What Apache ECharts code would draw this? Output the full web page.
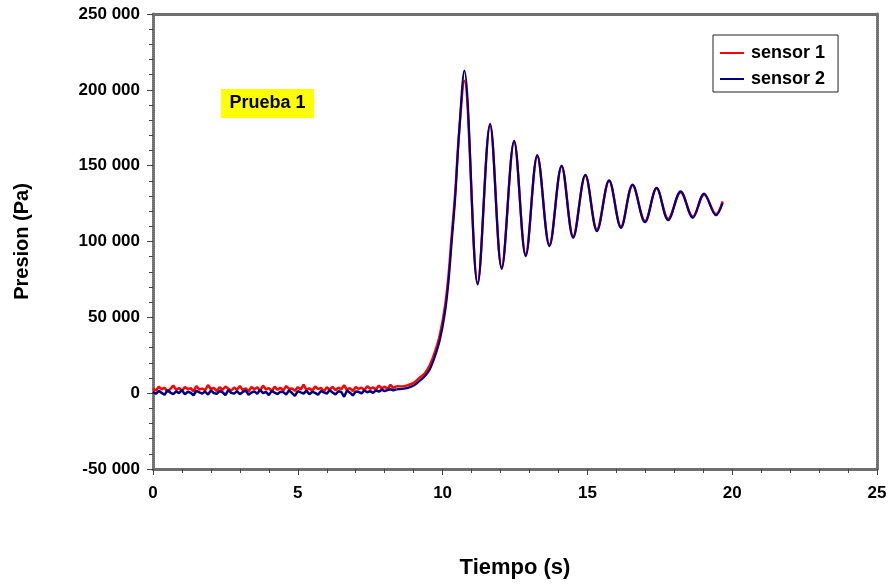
<!DOCTYPE html>
<html>
<head>
<meta charset="utf-8">
<script src="https://cdn.jsdelivr.net/npm/echarts@6/dist/echarts.min.js"></script>
<style>html,body{margin:0;padding:0;background:#fff}#c{width:891px;height:584px}</style>
</head>
<body>
<div id="c"></div>
<script>
// Baseline (noisy) section, time in s, pressure in thousands of Pa
var tiempoBase = [0.0,0.1,0.2,0.3,0.4,0.5,0.6,0.7,0.8,0.9,
  1.0,1.1,1.2,1.3,1.4,1.5,1.6,1.7,1.8,1.9,
  2.0,2.1,2.2,2.3,2.4,2.5,2.6,2.7,2.8,2.9,
  3.0,3.1,3.2,3.3,3.4,3.5,3.6,3.7,3.8,3.9,
  4.0,4.1,4.2,4.3,4.4,4.5,4.6,4.7,4.8,4.9,
  5.0,5.1,5.2,5.3,5.4,5.5,5.6,5.7,5.8,5.9,
  6.0,6.1,6.2,6.3,6.4,6.5,6.6,6.7,6.8,6.9,
  7.0,7.1,7.2,7.3,7.4,7.5,7.6,7.7,7.8,7.9,
  8.0,8.1,8.2,8.3,8.4];
var sensor1Base = [3.1,1.8,4.2,2.5,3.6,0.9,2.8,5.1,2.2,3.4,
  1.5,4.0,2.7,3.3,1.2,4.6,2.4,3.0,1.9,5.4,
  2.6,3.5,1.4,3.9,2.1,4.4,2.9,1.6,3.7,2.3,
  4.8,2.0,3.2,1.1,4.1,2.6,3.8,1.7,5.0,2.5,
  3.4,1.3,4.3,2.2,3.6,1.8,4.7,2.8,3.1,1.5,
  4.0,2.4,5.6,2.0,3.3,1.6,4.5,2.7,3.5,1.0,
  3.9,2.3,4.2,1.9,3.7,2.6,5.2,2.1,3.4,1.4,
  4.1,2.8,3.6,2.0,4.6,2.9,3.8,2.4,5.0,3.1,
  4.3,2.7,5.5,3.4,4.6];
var sensor2Base = [0.8,-0.4,1.5,0.2,-1.1,1.9,0.4,-0.6,1.2,0.0,
  2.1,-0.8,0.9,0.3,-1.4,1.6,0.5,-0.2,1.1,-0.9,
  1.8,0.1,-0.5,1.4,0.6,-1.2,2.0,0.2,-0.3,1.3,
  -0.7,0.8,1.7,-1.0,0.4,1.2,-0.4,2.2,0.0,0.9,
  -1.3,1.5,0.3,-0.6,1.0,0.7,-0.9,1.9,0.1,-1.8,
  1.3,0.5,-0.2,1.6,-0.7,0.9,0.2,-1.1,1.4,0.6,
  -0.3,2.0,0.4,-0.8,1.2,0.8,-2.4,1.7,0.3,-1.5,
  1.1,0.9,-0.1,1.8,0.6,1.3,0.2,1.9,1.0,2.3,
  1.4,2.0,2.6,1.8,2.5];

// Rise, then alternating peaks and troughs of the oscillation
var tiempoEvento = [8.6,8.8,9.0,9.2,9.4,9.56,9.74,9.91,10.08,10.2,10.31,10.43,10.57,10.75,
  11.21,11.64,12.04,12.47,12.87,13.27,13.69,14.11,14.51,14.93,15.33,15.75,16.16,16.56,
  16.99,17.39,17.79,18.22,18.64,19.03,19.44,19.67];
var sensor1Evento = [4.5,5.3,6.8,10,13.5,18.5,27.5,39,57,77,103,131,172,206,
  73,176.5,83,165.5,91.5,156,98,149.5,103.5,143.5,108,140,110,137,
  113.5,135,115,132.5,116.5,131,118,126.5];
var sensor2Evento = [2.8,3.5,5.0,8.0,11.5,15.8,24.5,35.5,53,72.8,99,127.6,171.7,212.7,
  71.7,177.6,82,166.4,90.4,157,96.9,150,102.4,144,106.8,140.3,109,137.5,
  112.7,135.3,114,133,115.6,131.6,117.3,125.5];

var xTicks = [0,5,10,15,20,25];
var yTicks = [-50,0,50,100,150,200,250];
var nombres = ['sensor 1','sensor 2'];
var colores = ['#ff0000','#000080'];

function pares(t, v){ var o=[]; for(var i=0;i<t.length;i++) o.push([t[i],v[i]]); return o; }
function evento(tb, vb, te, ve){
  var o=[[tb[tb.length-1], vb[vb.length-1]]];
  return o.concat(pares(te, ve));
}
function fmtY(v){ if(v===0) return '0'; return (v<0?'-':'') + Math.abs(v) + ' 000'; }

var font = '"Liberation Sans", Arial, sans-serif';
var axisLineStyle = {color:'#6e6e6e', width:3, type:[1,1]};

var chart = echarts.init(document.getElementById('c'));
chart.setOption({
  animation:false,
  backgroundColor:'#ffffff',
  grid:{left:153, right:14, top:14, bottom:114, containLabel:false},
  legend:{
    data:nombres, orient:'vertical', left:713, top:35,
    padding:[9,13,4,7], itemGap:8, itemWidth:24, itemHeight:2, icon:'rect',
    borderColor:'#222', borderWidth:1, backgroundColor:'#fff',
    textStyle:{fontFamily:font, fontWeight:'bold', fontSize:18, color:'#000', padding:[0,0,0,2]}
  },
  xAxis:[{
    type:'value', min:0, max:25, interval:5, position:'bottom',
    name:'Tiempo (s)', nameLocation:'middle', nameGap:88,
    nameTextStyle:{fontFamily:font, fontWeight:'bold', fontSize:22, color:'#000'},
    axisLine:{show:true, onZero:false, lineStyle:axisLineStyle},
    axisTick:{show:true, inside:false, length:6, lineStyle:{color:'#444', width:1}},
    minorTick:{show:true, splitNumber:5, length:4, lineStyle:{color:'#444', width:1}},
    splitLine:{show:false},
    axisLabel:{fontFamily:font, fontWeight:'bold', fontSize:17, color:'#000', margin:16,
      formatter:function(v){return xTicks.indexOf(v)>=0? String(v):'';}}
  },{
    type:'value', min:0, max:25, position:'top',
    axisLine:{show:true, onZero:false, lineStyle:axisLineStyle},
    axisTick:{show:false}, axisLabel:{show:false}, splitLine:{show:false}
  }],
  yAxis:[{
    type:'value', min:-50, max:250, interval:50, position:'left',
    name:'Presion (Pa)', nameLocation:'middle', nameGap:121,
    nameTextStyle:{fontFamily:font, fontWeight:'bold', fontSize:20, color:'#000'},
    axisLine:{show:true, onZero:false, lineStyle:axisLineStyle},
    axisTick:{show:true, inside:false, length:6, lineStyle:{color:'#444', width:1}},
    minorTick:{show:true, splitNumber:5, length:4, lineStyle:{color:'#444', width:1}},
    splitLine:{show:false},
    axisLabel:{fontFamily:font, fontWeight:'bold', fontSize:17, color:'#000', margin:13,
      formatter:function(v){return yTicks.indexOf(v)>=0? fmtY(v):'';}}
  },{
    type:'value', min:-50, max:250, interval:50, position:'right',
    axisLine:{show:true, onZero:false, lineStyle:axisLineStyle},
    axisTick:{show:false}, axisLabel:{show:false}, splitLine:{show:false}
  }],
  series:[
    {name:nombres[0], type:'line', showSymbol:false, color:colores[0],
      lineStyle:{width:2.5, color:colores[0]}, data:pares(tiempoBase, sensor1Base)},
    {name:nombres[0], type:'line', showSymbol:false, smooth:0.35, color:colores[0],
      lineStyle:{width:2.4, color:colores[0]}, data:evento(tiempoBase, sensor1Base, tiempoEvento, sensor1Evento)},
    {name:nombres[1], type:'line', showSymbol:false, color:colores[1],
      lineStyle:{width:2.5, color:colores[1]}, data:pares(tiempoBase, sensor2Base)},
    {name:nombres[1], type:'line', showSymbol:false, smooth:0.35, color:colores[1],
      lineStyle:{width:2.2, color:colores[1]}, data:evento(tiempoBase, sensor2Base, tiempoEvento, sensor2Evento)}
  ],
  graphic:[{
    type:'group', left:221, top:89,
    children:[
      {type:'rect', shape:{x:0, y:0, width:93, height:29}, style:{fill:'#ffff00'}},
      {type:'text', x:46.5, y:14.5, style:{text:'Prueba 1', fontFamily:font, fontWeight:'bold', fontSize:18, fill:'#000', align:'center', verticalAlign:'middle'}}
    ]
  }]
});
</script>
</body>
</html>
